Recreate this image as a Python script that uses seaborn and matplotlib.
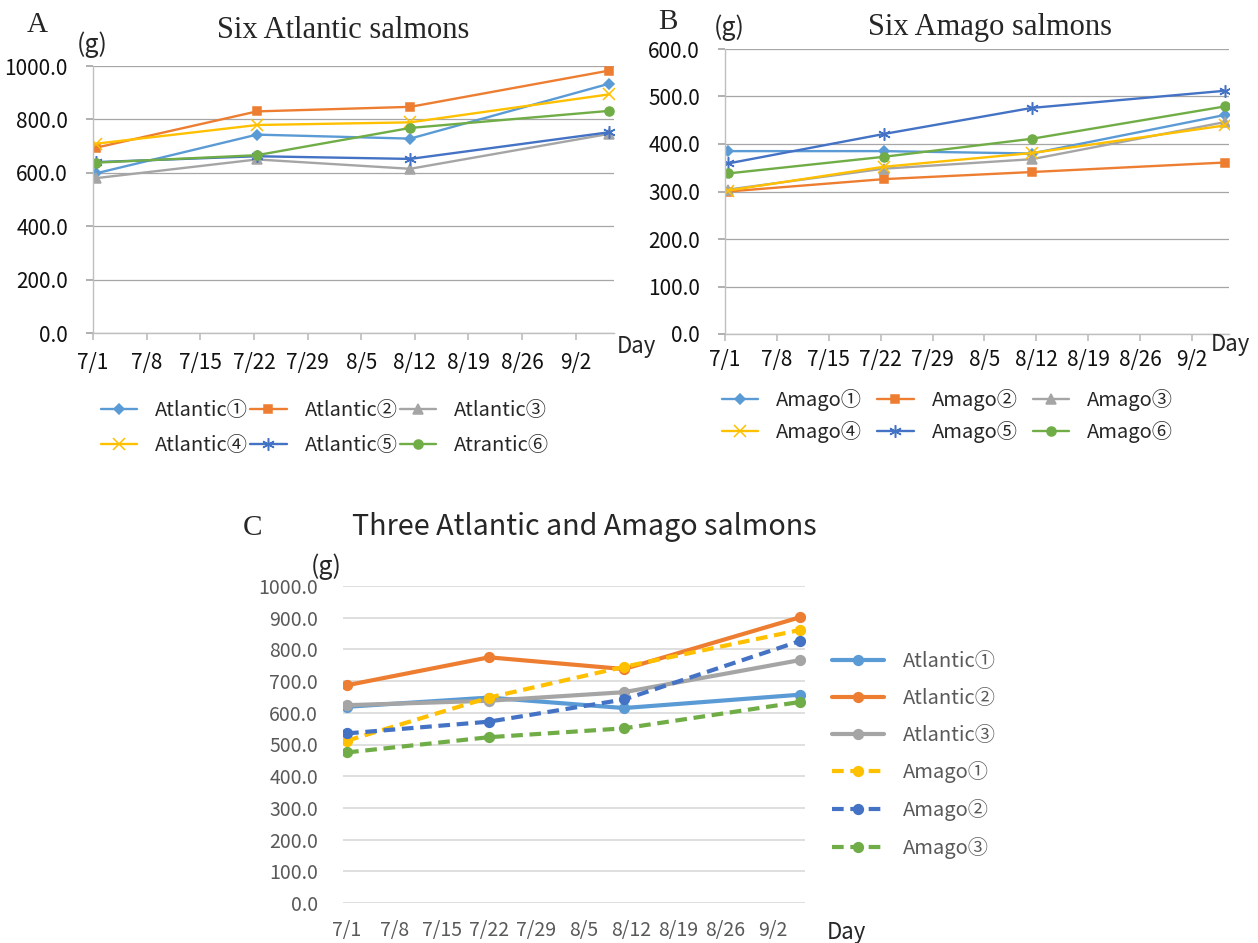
import numpy as np
import pandas as pd
import matplotlib
matplotlib.use('Agg')
import matplotlib.pyplot as plt
import seaborn as sns

# weighing days, counted from 7/1
DAYS = [0, 21, 41, 67]
TICK_DAYS = [0, 7, 14, 21, 28, 35, 42, 49, 56, 63]
TICK_LABELS = ['7/1', '7/8', '7/15', '7/22', '7/29', '8/5', '8/12', '8/19', '8/26', '9/2']

# panel A - six Atlantic salmons (g)
ATLANTIC_NAMES = ['Atlantic①', 'Atlantic②', 'Atlantic③',
                  'Atlantic④', 'Atlantic⑤', 'Atrantic⑥']
ATLANTIC_1 = [598, 743, 728, 934]
ATLANTIC_2 = [694, 830, 847, 983]
ATLANTIC_3 = [580, 650, 615, 746]
ATLANTIC_4 = [709, 779, 789, 894]
ATLANTIC_5 = [640, 662, 652, 752]
ATLANTIC_6 = [638, 666, 768, 832]

# panel B - six Amago salmons (g)
AMAGO_NAMES = ['Amago①', 'Amago②', 'Amago③', 'Amago④', 'Amago⑤', 'Amago⑥']
AMAGO_1 = [385, 385, 380, 461]
AMAGO_2 = [300, 326, 341, 361]
AMAGO_3 = [304, 348, 368, 446]
AMAGO_4 = [302, 352, 381, 439]
AMAGO_5 = [359, 421, 476, 512]
AMAGO_6 = [338, 373, 411, 479]

# panel C - three of each (g)
MIX_NAMES = ['Atlantic①', 'Atlantic②', 'Atlantic③', 'Amago①', 'Amago②', 'Amago③']
MIX_ATL_1 = [619, 648, 615, 657]
MIX_ATL_2 = [687, 775, 738, 901]
MIX_ATL_3 = [624, 638, 665, 766]
MIX_AMA_1 = [512, 648, 745, 861]
MIX_AMA_2 = [535, 572, 642, 826]
MIX_AMA_3 = [475, 523, 551, 634]

OFFICE = ['#5B9BD5', '#ED7D31', '#A5A5A5', '#FFC000', '#4472C4', '#70AD47']
MARKERS = ['D', 's', '^', 'x', (6, 2, 0), 'o']
MARKER_SIZES = [5.5, 6, 6.5, 8, 9, 6.5]

sns.set_theme(style='white')
plt.rcParams['font.family'] = ['Noto Sans CJK JP', 'DejaVu Sans']

SERIF = ['Liberation Serif', 'DejaVu Serif']


def long_frame(names, series, shift):
    rows = []
    for name, vals in zip(names, series):
        for d, v in zip(DAYS, vals):
            rows.append({'day': d + shift, 'g': v, 'fish': name})
    return pd.DataFrame(rows)


def draw(ax, names, series, shift, markers, sizes, dashes, lw):
    df = long_frame(names, series, shift)
    # seaborn refuses to mix filled and line-art markers, so set them afterwards
    sns.lineplot(data=df, x='day', y='g', hue='fish', style='fish',
                 hue_order=names, style_order=names,
                 palette=dict(zip(names, OFFICE)),
                 markers=False, dashes=dashes,
                 lw=lw, errorbar=None, legend=False, ax=ax)
    lines = ax.get_lines()[:len(names)]
    for line, name, m, ms in zip(lines, names, markers, sizes):
        line.set_marker(m)
        line.set_markersize(ms)
        line.set_markerfacecolor(line.get_color())
        line.set_markeredgecolor(line.get_color())
        line.set_markeredgewidth(1.1)
        line.set_label(name)
    return lines


def style_small(ax, ymax, ystep, xpad):
    ax.set_xlim(0, 68)
    ax.set_ylim(0, ymax)
    ax.set_yticks(np.arange(0, ymax + 1, ystep))
    ax.set_yticklabels([f'{v:.1f}' for v in np.arange(0, ymax + 1, ystep)])
    ax.set_xticks(TICK_DAYS)
    ax.set_xticklabels(TICK_LABELS)
    ax.set_xlabel('')
    ax.set_ylabel('')
    ax.grid(axis='y', color='#A6A6A6', lw=0.9)
    ax.grid(axis='x', visible=False)
    for s in ['top', 'right']:
        ax.spines[s].set_visible(False)
    for s in ['left', 'bottom']:
        ax.spines[s].set_color('#BFBFBF')
        ax.spines[s].set_linewidth(1.0)
    ax.tick_params(axis='x', bottom=True, length=5, color='#BFBFBF',
                   labelsize=15, labelcolor='#111111', pad=xpad)
    ax.tick_params(axis='y', left=True, length=5, color='#A6A6A6',
                   labelsize=15, labelcolor='#111111', pad=13)


fig = plt.figure(figsize=(12.58, 9.43), dpi=100)
W, H = 1258, 943


def px(x, y):
    return x / W, 1 - y / H


# ---- panel A ----
axA = fig.add_axes([93 / W, 1 - 333 / H, 521 / W, 267 / H])
lines = draw(axA, ATLANTIC_NAMES,
             [ATLANTIC_1, ATLANTIC_2, ATLANTIC_3, ATLANTIC_4, ATLANTIC_5, ATLANTIC_6],
             0.4, MARKERS, MARKER_SIZES, False, 1.7)
style_small(axA, 1000, 200, 9)
order = [0, 3, 1, 4, 2, 5]
fig.legend([lines[i] for i in order], [ATLANTIC_NAMES[i] for i in order],
           ncol=3, loc='center left', bbox_to_anchor=px(101, 428),
           frameon=False, fontsize=14.5, handlelength=1.8, handletextpad=0.9,
           columnspacing=0.1, labelspacing=0.72, borderpad=0, borderaxespad=0)

# ---- panel B ----
axB = fig.add_axes([725 / W, 1 - 334 / H, 504 / W, 285 / H])
lines = draw(axB, AMAGO_NAMES,
             [AMAGO_1, AMAGO_2, AMAGO_3, AMAGO_4, AMAGO_5, AMAGO_6],
             0.4, MARKERS, MARKER_SIZES, False, 1.7)
style_small(axB, 600, 100, 6)
fig.legend([lines[i] for i in order], [AMAGO_NAMES[i] for i in order],
           ncol=3, loc='center left', bbox_to_anchor=px(722, 416),
           frameon=False, fontsize=14.5, handlelength=1.8, handletextpad=0.9,
           columnspacing=0.75, labelspacing=0.5, borderpad=0, borderaxespad=0)

# ---- panel C ----
axC = fig.add_axes([343 / W, 1 - 903 / H, 462 / W, 317 / H])
dash = (2.8, 1.6)
lines = draw(axC, MIX_NAMES,
             [MIX_ATL_1, MIX_ATL_2, MIX_ATL_3, MIX_AMA_1, MIX_AMA_2, MIX_AMA_3],
             0.0, ['o'] * 6, [7] * 6,
             dict(zip(MIX_NAMES, ['', '', '', dash, dash, dash])), 3.0)
axC.set_xlim(-0.6, 67.8)
axC.set_ylim(0, 1000)
axC.set_yticks(np.arange(0, 1001, 100))
axC.set_yticklabels([f'{v:.1f}' for v in np.arange(0, 1001, 100)])
axC.set_xticks(TICK_DAYS)
axC.set_xticklabels(TICK_LABELS)
axC.set_xlabel('')
axC.set_ylabel('')
axC.grid(axis='y', color='#D9D9D9', lw=1.2)
axC.grid(axis='x', visible=False)
sns.despine(ax=axC, left=True, bottom=True)
axC.tick_params(axis='both', length=0, labelsize=14, labelcolor='#595959')
axC.tick_params(axis='y', pad=18)
axC.tick_params(axis='x', pad=12)
fig.legend(lines, MIX_NAMES, ncol=1, loc='center left', bbox_to_anchor=px(832, 755),
           frameon=False, fontsize=14.5, labelcolor='#595959', handlelength=2.6,
           handletextpad=0.9, labelspacing=0.78, borderpad=0, borderaxespad=0)

# ---- titles and labels ----
fig.text(*px(343, 30), 'Six Atlantic salmons', family=SERIF, fontsize=22,
         ha='center', va='center')
fig.text(*px(990, 28), 'Six Amago salmons', family=SERIF, fontsize=22,
         ha='center', va='center')
fig.text(*px(584, 527), 'Three Atlantic and Amago salmons', fontsize=20.7,
         ha='center', va='center')
fig.text(*px(37, 25), 'A', family=SERIF, fontsize=21, ha='center', va='center')
fig.text(*px(668, 22), 'B', family=SERIF, fontsize=21, ha='center', va='center')
fig.text(*px(252, 528), 'C', family=SERIF, fontsize=21, ha='center', va='center')
fig.text(*px(92, 45), '(g)', fontsize=18, ha='center', va='center')
fig.text(*px(729, 28), '(g)', fontsize=18, ha='center', va='center')
fig.text(*px(326, 567), '(g)', fontsize=18, ha='center', va='center')
fig.text(*px(617, 346), 'Day', fontsize=16, ha='left', va='center')
fig.text(*px(1211, 345), 'Day', fontsize=16, ha='left', va='center')
fig.text(*px(827, 932), 'Day', fontsize=16, ha='left', va='center')

fig.savefig('out.png', dpi=100)
